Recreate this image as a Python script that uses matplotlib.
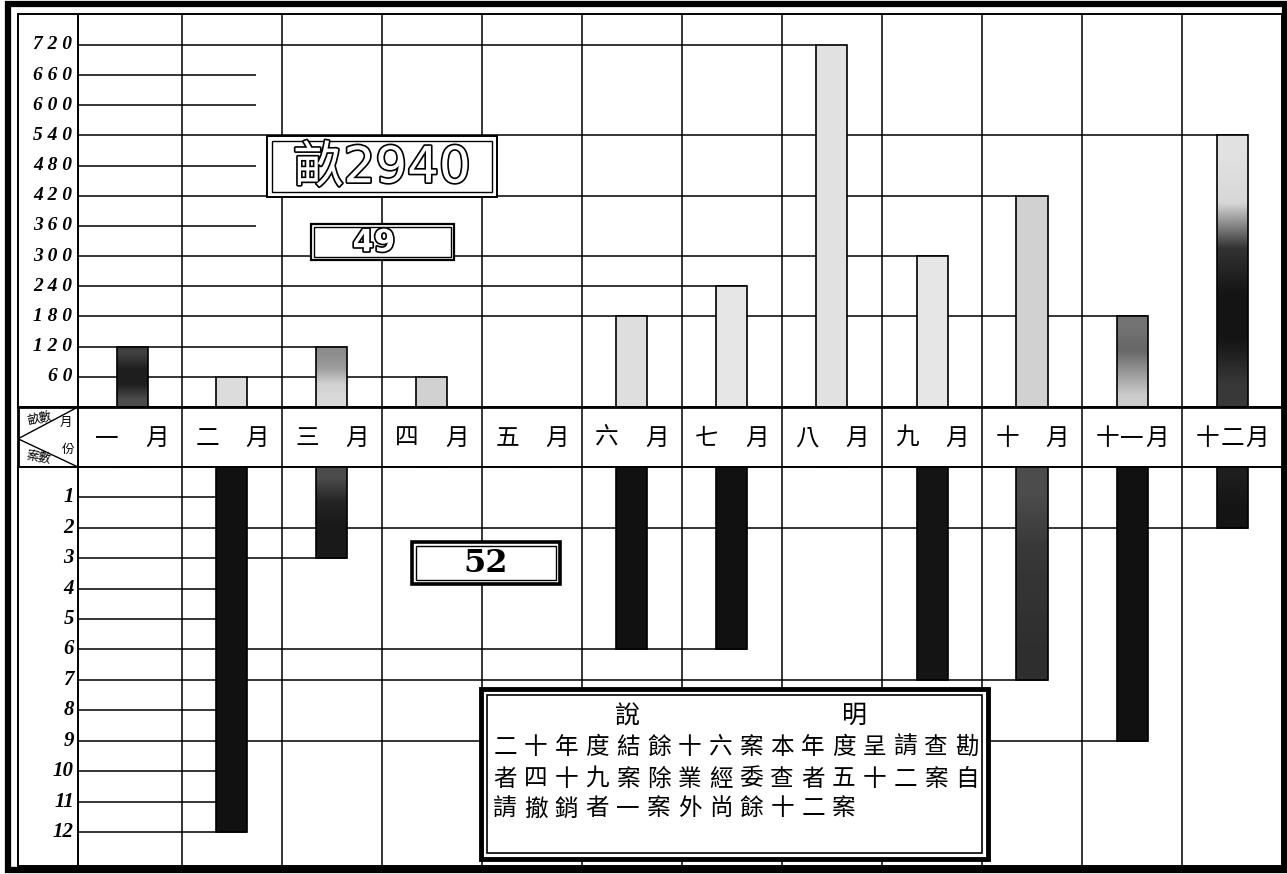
import numpy as np
import matplotlib.pyplot as plt
import matplotlib.patheffects as pe
from matplotlib.patches import Rectangle

CJK = ['Noto Sans CJK TC', 'DejaVu Sans']
plt.rcParams['font.family'] = CJK

# month columns
MONTHS = ["一月", "二月", "三月", "四月", "五月", "六月",
          "七月", "八月", "九月", "十月", "十一月", "十二月"]

# upper half: area applied for inspection (畝)
APPLIED = [120, 60, 120, 60, 0, 180, 240, 720, 300, 420, 180, 540]
APPLIED_TICKS = [60, 120, 180, 240, 300, 360, 420, 480, 540, 600, 660, 720]
APPLIED_TICK_LABELS = ["6 0", "1 2 0", "1 8 0", "2 4 0", "3 0 0", "3 6 0",
                       "4 2 0", "4 8 0", "5 4 0", "6 0 0", "6 6 0", "7 2 0"]

# lower half: cases inspected (案)
CHECKED = [0, 12, 3, 0, 0, 6, 6, 0, 7, 7, 9, 2]
CHECKED_TICKS = [1, 2, 3, 4, 5, 6, 7, 8, 9, 10, 11, 12]
CHECKED_TICK_LABELS = ["1", "2", "3", "4", "5", "6", "7", "8", "9", "10", "11", "12"]

CORNER_TOP = "畝數"
CORNER_RIGHT = ("月", "份")
CORNER_BOTTOM = "案數"

TOTAL_AREA = "畝2940"
TOTAL_APPLIED = "49"
TOTAL_CHECKED = "52"

NOTE_TITLE = ("說", "明")
NOTE_LINES = ["二十年度結餘十六案本年度呈請查勘",
              "者四十九案除業經委查者五十二案自",
              "請撤銷者一案外尚餘十二案"]

# grey level of each bar from top to bottom, 0 = black
APPLIED_SHADES = [(0.25, 0.12, 0.12, 0.3), (0.86, 0.86, 0.86, 0.86),
                  (0.55, 0.62, 0.82, 0.85), (0.82, 0.82, 0.82, 0.82),
                  (1, 1, 1, 1), (0.87, 0.87, 0.87, 0.87),
                  (0.9, 0.9, 0.9, 0.9), (0.88, 0.88, 0.88, 0.88),
                  (0.9, 0.9, 0.9, 0.9), (0.82, 0.82, 0.82, 0.82),
                  (0.45, 0.4, 0.6, 0.8), (0.88, 0.84, 0.2, 0.08, 0.08, 0.22)]
CHECKED_SHADES = [(0.1,) * 4, (0.07,) * 4, (0.3, 0.15, 0.1, 0.1),
                  (0.1,) * 4, (0.1,) * 4, (0.07,) * 4,
                  (0.07,) * 4, (0.1,) * 4, (0.08,) * 4,
                  (0.3, 0.22, 0.2, 0.18), (0.07,) * 4, (0.12, 0.1, 0.08, 0.08)]

W, H = 1287, 874
XMIN, XMAX = -0.64, 12.0
LABEL_EDGE = -0.04
BAR_W = 0.31
LW = 1.1


def px_rect(x0, y0, x1, y1):
    return [x0 / W, 1 - y1 / H, (x1 - x0) / W, (y1 - y0) / H]


def prep(ax):
    ax.set_xlim(XMIN, XMAX)
    ax.set_xticks([])
    ax.set_yticks([])
    for s in ax.spines.values():
        s.set_linewidth(1.4)


def draw_bars(ax, values, shades):
    xs = np.arange(len(values)) + 0.5
    bars = ax.bar(xs, values, width=BAR_W, facecolor='none',
                  edgecolor='black', linewidth=1.2, zorder=4)
    inverted = ax.yaxis_inverted()
    for p, sh in zip(bars.patches, shades):
        if p.get_height() == 0:
            continue
        x0, x1 = p.get_x(), p.get_x() + p.get_width()
        y0, y1 = p.get_y(), p.get_y() + p.get_height()
        ext = (x0, x1, y1, y0) if inverted else (x0, x1, y0, y1)
        img = np.array(sh, dtype=float).reshape(-1, 1)
        ax.imshow(img, cmap='gray', vmin=0, vmax=1, extent=ext,
                  aspect='auto', interpolation='bilinear', zorder=3)
    return bars


def level_lines(ax, ticks, values, bars, stub):
    for t in ticks:
        ends = [p.get_x() + p.get_width()
                for p, v in zip(bars.patches, values) if v == t]
        end = max(ends) if ends else stub
        ax.hlines(t, LABEL_EDGE, end, color='black', lw=LW, zorder=2)


def column_lines(ax):
    ax.axvline(LABEL_EDGE, color='black', lw=1.4, zorder=2)
    for i in range(1, len(MONTHS)):
        ax.axvline(i, color='black', lw=LW, zorder=2)


def framed_box(x0, y0, x1, y1, outer_lw, pad, inner_lw):
    bax = fig.add_axes(px_rect(x0, y0, x1, y1))
    bax.set_zorder(6)
    bax.set_xlim(0, 1)
    bax.set_ylim(0, 1)
    bax.axis('off')
    bax.add_patch(Rectangle((0, 0), 1, 1, transform=bax.transAxes,
                            facecolor='white', edgecolor='black',
                            lw=outer_lw, clip_on=False))
    fx, fy = pad / (x1 - x0), pad / (y1 - y0)
    bax.add_patch(Rectangle((fx, fy), 1 - 2 * fx, 1 - 2 * fy,
                            transform=bax.transAxes, fill=False,
                            edgecolor='black', lw=inner_lw, clip_on=False))
    return bax


fig = plt.figure(figsize=(12.87, 8.74), dpi=100)

ax_up = fig.add_axes(px_rect(18, 14, 1282, 407))
ax_hd = fig.add_axes(px_rect(18, 407, 1282, 467))
ax_lo = fig.add_axes(px_rect(18, 467, 1282, 866))
for ax in (ax_up, ax_hd, ax_lo):
    prep(ax)

# upper part
ax_up.set_ylim(0, 781.6)
column_lines(ax_up)
up_bars = draw_bars(ax_up, APPLIED, APPLIED_SHADES)
level_lines(ax_up, APPLIED_TICKS, APPLIED, up_bars, 1.74)
for t, lab in zip(APPLIED_TICKS, APPLIED_TICK_LABELS):
    ax_up.text(-0.1, t, lab, ha='right', va='center', fontsize=14,
               family='Liberation Serif', style='italic', weight='bold')
ax_up.set_xlim(XMIN, XMAX)
ax_up.set_ylim(0, 781.6)

# lower part (bars hang down)
ax_lo.set_ylim(13.12, 0)
column_lines(ax_lo)
lo_bars = draw_bars(ax_lo, CHECKED, CHECKED_SHADES)
level_lines(ax_lo, CHECKED_TICKS, CHECKED, lo_bars, 1.36)
for t, lab in zip(CHECKED_TICKS, CHECKED_TICK_LABELS):
    ax_lo.text(-0.08, t, lab, ha='right', va='center', fontsize=15,
               family='Liberation Serif', style='italic', weight='bold')
ax_lo.set_xlim(XMIN, XMAX)
ax_lo.set_ylim(13.12, 0)

# month header row
ax_hd.set_ylim(0, 1)
for s in ax_hd.spines.values():
    s.set_linewidth(2)
column_lines(ax_hd)
for i, m in enumerate(MONTHS):
    offs = [-0.25, 0.25] if len(m) == 2 else [-0.25, 0, 0.25]
    for o, ch in zip(offs, m):
        ax_hd.text(i + 0.5 + o, 0.48, ch, ha='center', va='center', fontsize=17)
ax_hd.plot([XMIN, LABEL_EDGE], [0.47, 1], color='black', lw=1)
ax_hd.plot([XMIN, LABEL_EDGE], [0.47, 0], color='black', lw=1)
ax_hd.text(-0.42, 0.8, CORNER_TOP, ha='center', va='center', fontsize=9, rotation=12)
ax_hd.text(-0.16, 0.74, CORNER_RIGHT[0], ha='center', va='center', fontsize=9)
ax_hd.text(-0.14, 0.3, CORNER_RIGHT[1], ha='center', va='center', fontsize=9)
ax_hd.text(-0.44, 0.16, CORNER_BOTTOM, ha='center', va='center', fontsize=9, rotation=-10)

# total boxes
b1 = framed_box(267, 136, 497, 197, 1.4, 5, 1.0)
b1.text(0.5, 0.47, TOTAL_AREA, ha='center', va='center', fontsize=36,
        color='white', family=['DejaVu Sans', 'Noto Sans CJK TC'],
        path_effects=[pe.withStroke(linewidth=2.4, foreground='black')])
b2 = framed_box(311, 224, 454, 260, 1.6, 3, 1.0)
b2.text(0.44, 0.48, TOTAL_APPLIED, ha='center', va='center', fontsize=22,
        color='white', weight='bold', family='DejaVu Sans',
        path_effects=[pe.withStroke(linewidth=2.4, foreground='black')])
b3 = framed_box(412, 542, 560, 584, 2.6, 4, 1.0)
b3.text(0.5, 0.48, TOTAL_CHECKED, ha='center', va='center', fontsize=23,
        weight='bold', family='DejaVu Serif')

# explanation box
nb = framed_box(481, 689, 988, 859, 3.5, 6, 1.2)
nb.text((628 - 481) / 507, 0.84, NOTE_TITLE[0], ha='center', va='center', fontsize=18)
nb.text((855 - 481) / 507, 0.84, NOTE_TITLE[1], ha='center', va='center', fontsize=18)
for row, line in enumerate(NOTE_LINES):
    y = [0.655, 0.47, 0.295][row]
    for k, ch in enumerate(line):
        nb.text((505 + 30.8 * k - 481) / 507, y, ch, ha='center', va='center',
                fontsize=17)

# outer heavy frame
fig.add_artist(Rectangle((8 / W, 4 / H), 1277 / W, 866 / H,
                         transform=fig.transFigure, fill=False,
                         edgecolor='black', lw=4.5))

fig.savefig('out.png', dpi=100)
